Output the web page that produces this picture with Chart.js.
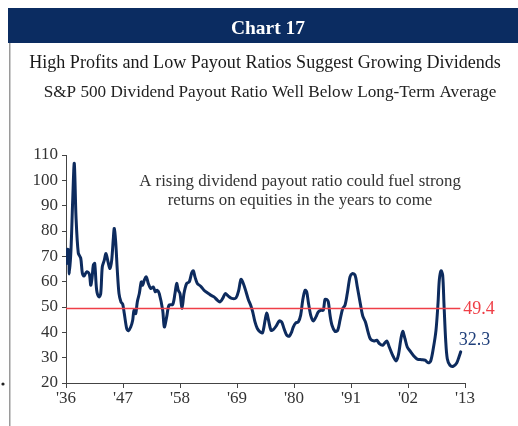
<!DOCTYPE html>
<html>
<head>
<meta charset="utf-8">
<script src="https://cdn.jsdelivr.net/npm/chart.js@4/dist/chart.umd.min.js"></script>
<style>
  html, body { margin: 0; padding: 0; background: #fff; }
  canvas { display: block; }
</style>
</head>
<body>
<canvas id="payoutChart" width="518" height="426"></canvas>
<script>
  // S&P 500 dividend payout ratio (%)
  const years = [
    1936.00, 1936.14, 1936.25, 1936.52, 1936.64, 1936.96, 1937.29, 1937.60, 1937.93, 1938.37,
    1938.84, 1939.15, 1939.47, 1939.99, 1940.50, 1940.77, 1941.02, 1941.27, 1941.54, 1941.92,
    1942.37, 1942.70, 1943.00, 1943.39, 1943.72, 1944.11, 1944.49, 1944.82, 1945.13, 1945.32,
    1945.59, 1945.90, 1946.23, 1946.61, 1946.94, 1947.25, 1947.71, 1948.02, 1948.49, 1948.87,
    1949.12, 1949.45, 1949.76, 1950.15, 1950.53, 1950.80, 1951.11, 1951.50, 1951.88, 1952.35,
    1952.85, 1953.23, 1953.62, 1954.00, 1954.66, 1954.97, 1955.43, 1955.88, 1956.59, 1957.03,
    1957.36, 1957.67, 1958.00, 1958.39, 1958.77, 1959.29, 1959.79, 1960.26, 1960.57, 1960.89,
    1961.34, 1961.99, 1962.63, 1963.27, 1963.92, 1964.56, 1965.20, 1965.72, 1966.24, 1966.74,
    1967.32, 1967.98, 1968.81, 1969.33, 1969.77, 1970.22, 1970.74, 1971.18, 1971.64, 1972.03,
    1972.47, 1972.92, 1973.44, 1973.92, 1974.40, 1974.73, 1975.08, 1975.56, 1976.00, 1976.53,
    1977.16, 1977.63, 1978.07, 1978.59, 1979.09, 1979.56, 1979.86, 1980.33, 1980.83, 1981.29,
    1981.68, 1982.12, 1982.45, 1982.76, 1983.22, 1983.72, 1984.24, 1984.69, 1985.21, 1985.65,
    1985.98, 1986.31, 1986.62, 1986.95, 1987.33, 1987.91, 1988.43, 1988.88, 1989.40, 1989.84,
    1990.28, 1990.81, 1991.25, 1991.77, 1992.22, 1992.74, 1993.26, 1993.80, 1994.24, 1994.76,
    1995.44, 1995.96, 1996.46, 1997.12, 1997.89, 1998.39, 1999.05, 1999.68, 2000.13, 2000.59,
    2000.97, 2001.42, 2001.86, 2002.52, 2003.16, 2003.79, 2004.64, 2005.28, 2005.92, 2006.38,
    2006.88, 2007.40, 2007.79, 2008.04, 2008.37, 2008.69, 2008.94, 2009.27, 2009.58, 2010.10,
    2010.74, 2011.40, 2011.84, 2012.17
  ];
  const payoutRatio = [
    69.8, 67.2, 72.7, 72.5, 63.0, 72.5, 92.0, 106.7, 85.6, 71.3,
    69.3, 63.4, 62.2, 63.9, 63.0, 58.6, 61.3, 66.5, 67.2, 56.6,
    54.0, 55.3, 65.8, 68.5, 71.1, 67.8, 65.2, 68.5, 77.0, 81.0,
    75.7, 64.5, 55.3, 52.0, 51.1, 47.4, 41.5, 40.6, 42.1, 44.8,
    48.7, 47.4, 52.0, 55.3, 59.9, 58.6, 60.6, 61.9, 59.3, 57.3,
    57.9, 56.0, 56.6, 55.3, 48.7, 42.1, 46.1, 50.7, 51.0, 55.3,
    59.3, 56.6, 55.3, 49.4, 55.3, 59.3, 59.9, 63.5, 64.3, 61.9,
    59.3, 58.2, 56.6, 55.6, 54.7, 54.0, 52.7, 52.0, 53.4, 55.3,
    54.3, 53.4, 53.6, 56.6, 60.9, 59.3, 56.0, 53.0, 50.7, 48.1,
    44.1, 41.5, 40.2, 39.8, 44.5, 47.6, 44.8, 40.8, 41.1, 42.4,
    44.5, 44.1, 41.5, 38.9, 38.5, 40.2, 42.1, 43.7, 44.1, 46.8,
    52.7, 56.6, 56.0, 52.0, 46.8, 44.5, 46.1, 48.1, 48.7, 48.7,
    53.0, 53.0, 52.0, 46.8, 42.8, 40.4, 40.8, 44.8, 49.4, 50.7,
    55.3, 61.9, 63.2, 62.6, 57.9, 52.0, 46.5, 44.0, 40.5, 37.3,
    36.6, 36.9, 35.6, 34.9, 36.6, 34.2, 30.9, 28.7, 30.9, 36.9,
    40.4, 37.5, 34.2, 32.3, 30.6, 29.4, 29.2, 29.0, 28.0, 28.7,
    33.6, 40.8, 51.4, 60.6, 64.3, 62.6, 51.4, 36.9, 29.6, 27.0,
    26.6, 27.9, 30.3, 32.3
  ];
  const longTermAvg = 49.4;
  const avgSpan = [1936, 2012.1];
  const tickYears = [1936, 1947, 1958, 1969, 1980, 1991, 2002, 2013];
  const yTicks = [20, 30, 40, 50, 60, 70, 80, 90, 100, 110];

  const NAVY = '#0d2b5e';
  const RED = '#ef3f47';
  const SERIF = '"Liberation Serif", "DejaVu Serif", serif';

  // font size that makes text span width w
  function fitSize(ctx, text, w, weight) {
    ctx.font = weight + ' 20px ' + SERIF;
    return 20 * w / ctx.measureText(text).width;
  }
  function drawCentered(ctx, text, cx, y, size, weight, color) {
    ctx.font = weight + ' ' + size + 'px ' + SERIF;
    ctx.fillStyle = color;
    ctx.textAlign = 'center';
    ctx.textBaseline = 'alphabetic';
    ctx.fillText(text, cx, y);
  }

  const frame = {
    id: 'frame',
    beforeDraw(chart) {
      const ctx = chart.ctx;
      ctx.save();
      // header bar
      ctx.fillStyle = '#0b2c61';
      ctx.fillRect(8, 8, 510, 35);
      // left rule
      ctx.fillStyle = '#9a9a9a';
      ctx.fillRect(9, 43, 1.5, 383);
      // bullet
      ctx.fillStyle = '#222';
      ctx.beginPath();
      ctx.arc(3, 384, 1.6, 0, Math.PI * 2);
      ctx.fill();

      let s = fitSize(ctx, 'Chart 17', 74, 'bold');
      drawCentered(ctx, 'Chart 17', 268, 34, s, 'bold', '#fff');

      const t1 = 'High Profits and Low Payout Ratios Suggest Growing Dividends';
      s = fitSize(ctx, t1, 472, 'normal');
      drawCentered(ctx, t1, 265, 68, s, 'normal', '#1a1a1a');

      const t2 = 'S&P 500 Dividend Payout Ratio Well Below Long-Term Average';
      s = fitSize(ctx, t2, 453, 'normal');
      drawCentered(ctx, t2, 270, 97, s, 'normal', '#222');

      const a1 = 'A rising dividend payout ratio could fuel strong';
      const a2 = 'returns on equities in the years to come';
      s = fitSize(ctx, a1, 322, 'normal');
      drawCentered(ctx, a1, 300, 186, s, 'normal', '#333');
      drawCentered(ctx, a2, 300, 205, s, 'normal', '#333');
      ctx.restore();
    },
    afterDatasetsDraw(chart) {
      const ctx = chart.ctx;
      const xs = chart.scales.x, ys = chart.scales.y;
      const lastX = years[years.length - 1];
      const lastY = payoutRatio[payoutRatio.length - 1];
      ctx.save();
      ctx.font = '18px ' + SERIF;
      ctx.textAlign = 'left';
      ctx.textBaseline = 'middle';
      ctx.fillStyle = RED;
      ctx.fillText(longTermAvg.toFixed(1), xs.getPixelForValue(avgSpan[1]) + 3, ys.getPixelForValue(longTermAvg) + 1);
      ctx.fillStyle = '#1f3f7a';
      ctx.fillText(lastY.toFixed(1), xs.getPixelForValue(lastX) - 2, ys.getPixelForValue(lastY) - 12);
      ctx.restore();
    }
  };

  const ctx = document.getElementById('payoutChart').getContext('2d');
  new Chart(ctx, {
    type: 'line',
    data: {
      datasets: [
        {
          label: 'Long-term average',
          data: avgSpan.map(x => ({ x: x, y: longTermAvg })),
          borderColor: RED,
          borderWidth: 1.5,
          pointRadius: 0,
          tension: 0
        },
        {
          label: 'Payout ratio',
          data: years.map((x, i) => ({ x: x, y: payoutRatio[i] })),
          borderColor: NAVY,
          borderWidth: 3,
          pointRadius: 0,
          tension: 0.3,
          borderJoinStyle: 'round',
          borderCapStyle: 'round'
        }
      ]
    },
    options: {
      responsive: false,
      animation: false,
      events: [],
      layout: { padding: { top: 155, right: 53, left: 0, bottom: 0 } },
      plugins: { legend: { display: false }, tooltip: { enabled: false } },
      scales: {
        x: {
          type: 'linear',
          min: 1936,
          max: 2013,
          afterBuildTicks: s => { s.ticks = tickYears.map(v => ({ value: v })); },
          afterFit: s => { s.height = 43; },
          grid: { drawOnChartArea: false, tickLength: 5, color: '#444', lineWidth: 1 },
          border: { color: '#444', width: 1 },
          ticks: {
            color: '#333',
            font: { family: SERIF, size: 17 },
            padding: 0,
            maxRotation: 0,
            callback: v => "'" + String(v).slice(2)
          }
        },
        y: {
          min: 20,
          max: 110,
          afterBuildTicks: s => { s.ticks = yTicks.map(v => ({ value: v })); },
          afterFit: s => { s.width = 66; },
          grid: { drawOnChartArea: false, tickLength: 4, color: '#444', lineWidth: 1 },
          border: { color: '#444', width: 1 },
          ticks: {
            color: '#333',
            font: { family: SERIF, size: 17 },
            padding: 4
          }
        }
      }
    },
    plugins: [frame]
  });
</script>
</body>
</html>
